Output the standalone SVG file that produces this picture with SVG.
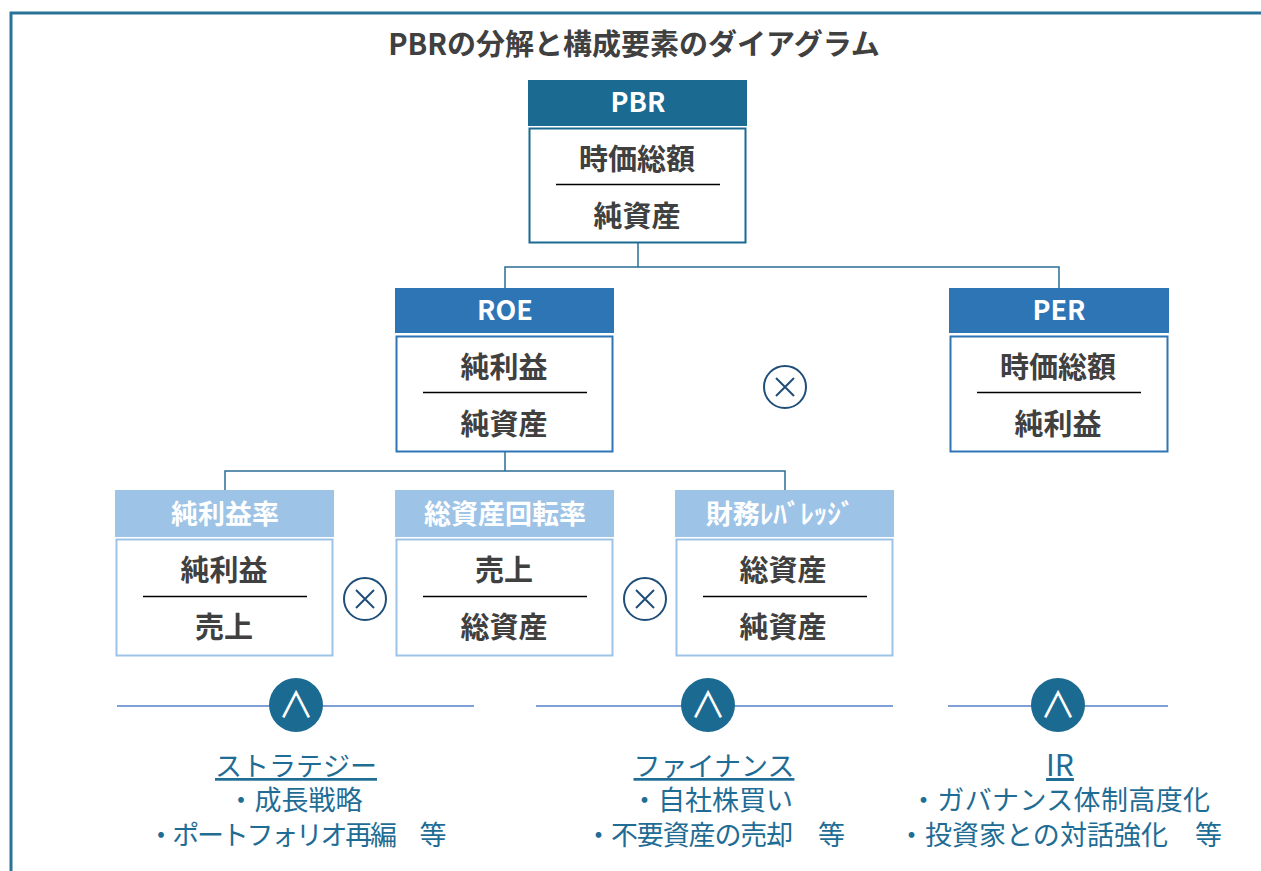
<svg xmlns="http://www.w3.org/2000/svg" width="1261" height="871" viewBox="0 0 1261 871">
<style>
text{font-family:"Noto Sans CJK JP","Noto Sans",sans-serif;text-anchor:middle}
.hd{fill:#fff;font-weight:bold;font-size:27px}
.bd{fill:#404040;font-weight:bold;font-size:29px}
.frac{stroke:#000;stroke-width:1.5}
.conn{fill:none;stroke:#2a6e95;stroke-width:1.5}
.x{fill:#fff;stroke:#1f4e79;stroke-width:2}
.xl{stroke:#1f4e79;stroke-width:2}
.bl{stroke:#7f9fd6;stroke-width:2}
.and{fill:#1a6a92}
.bt{fill:#1f6c94;font-size:27px}
</style>
<rect width="1261" height="871" fill="#fff"/>
<path d="M11,871 V13 H1261" fill="none" stroke="#2a7397" stroke-width="3"/>
<text x="634" y="55" style="fill:#404040;font-size:29px;font-weight:bold">PBRの分解と構成要素のダイアグラム</text>

<g id="connectors">
<path class="conn" d="M638,243 V267 M505,288 V267 H1059 V288"/>
<path class="conn" d="M505,452 V471 M225,490 V471 H785 V490"/>
</g>

<g id="pbr">
<rect x="528" y="80" width="219" height="46" fill="#1a6a92"/>
<rect x="529.5" y="128.5" width="216" height="114" fill="#fff" stroke="#1a6a92" stroke-width="2"/>
<text class="hd" x="638" y="112">PBR</text>
<text class="bd" x="637" y="170">時価総額</text>
<line class="frac" x1="556" y1="184.5" x2="720" y2="184.5"/>
<text class="bd" x="637" y="227">純資産</text>
</g>

<g id="roe">
<rect x="395" y="288" width="219" height="45" fill="#2e75b6"/>
<rect x="396.5" y="336.5" width="216" height="115" fill="#fff" stroke="#2e75b6" stroke-width="2"/>
<text class="hd" x="505" y="320">ROE</text>
<text class="bd" x="504" y="378">純利益</text>
<line class="frac" x1="423" y1="392.5" x2="587" y2="392.5"/>
<text class="bd" x="504" y="435">純資産</text>
</g>

<g id="per">
<rect x="949" y="288" width="220" height="45" fill="#2e75b6"/>
<rect x="950.5" y="336.5" width="217" height="115" fill="#fff" stroke="#2e75b6" stroke-width="2"/>
<text class="hd" x="1059" y="320">PER</text>
<text class="bd" x="1058" y="378">時価総額</text>
<line class="frac" x1="977" y1="392.5" x2="1141" y2="392.5"/>
<text class="bd" x="1058" y="435">純利益</text>
</g>

<g id="mul1">
<circle class="x" cx="785" cy="387" r="21"/>
<path class="xl" d="M776,378 L794,396 M794,378 L776,396"/>
</g>

<g id="npm">
<rect x="115" y="490" width="219" height="47" fill="#9dc3e6"/>
<rect x="116.5" y="539.5" width="216" height="116" fill="#fff" stroke="#9dc3e6" stroke-width="2"/>
<text class="hd" x="225" y="524">純利益率</text>
<text class="bd" x="224" y="581">純利益</text>
<line class="frac" x1="143" y1="596.5" x2="307" y2="596.5"/>
<text class="bd" x="224" y="638">売上</text>
</g>

<g id="mul2">
<circle class="x" cx="365" cy="599" r="21"/>
<path class="xl" d="M356,590 L374,608 M374,590 L356,608"/>
</g>

<g id="tat">
<rect x="395" y="490" width="219" height="47" fill="#9dc3e6"/>
<rect x="396.5" y="539.5" width="216" height="116" fill="#fff" stroke="#9dc3e6" stroke-width="2"/>
<text class="hd" x="505" y="524">総資産回転率</text>
<text class="bd" x="504" y="581">売上</text>
<line class="frac" x1="423" y1="596.5" x2="587" y2="596.5"/>
<text class="bd" x="504" y="638">総資産</text>
</g>

<g id="mul3">
<circle class="x" cx="645" cy="599" r="21"/>
<path class="xl" d="M636,590 L654,608 M654,590 L636,608"/>
</g>

<g id="lev">
<rect x="675" y="490" width="219" height="47" fill="#9dc3e6"/>
<rect x="676.5" y="539.5" width="216" height="116" fill="#fff" stroke="#9dc3e6" stroke-width="2"/>
<text class="hd" x="780" y="524">財務ﾚﾊﾞﾚｯｼﾞ</text>
<text class="bd" x="783" y="581">総資産</text>
<line class="frac" x1="703" y1="596.5" x2="867" y2="596.5"/>
<text class="bd" x="783" y="638">純資産</text>
</g>

<g id="strategy">
<line class="bl" x1="117" y1="706" x2="474" y2="706"/>
<circle class="and" cx="296" cy="705" r="27"/>
<text x="296" y="718" style="fill:#fff;font-size:36px">∧</text>
<text class="bt" x="296" y="776" text-decoration="underline">ストラテジー</text>
<text class="bt" x="295" y="810">・成長戦略</text>
<text class="bt" x="297" y="845" textLength="299" lengthAdjust="spacing">・ポートフォリオ再編　等</text>
</g>

<g id="finance">
<line class="bl" x1="536" y1="706" x2="893" y2="706"/>
<circle class="and" cx="708" cy="705" r="27"/>
<text x="708" y="718" style="fill:#fff;font-size:36px">∧</text>
<text class="bt" x="714" y="776" text-decoration="underline">ファイナンス</text>
<text class="bt" x="712" y="810">・自社株買い</text>
<text class="bt" x="715" y="845" textLength="260" lengthAdjust="spacing">・不要資産の売却　等</text>
</g>

<g id="ir">
<line class="bl" x1="948" y1="706" x2="1168" y2="706"/>
<circle class="and" cx="1058" cy="705" r="27"/>
<text x="1058" y="718" style="fill:#fff;font-size:36px">∧</text>
<text class="bt" x="1060" y="776" text-decoration="underline" style="font-size:30px">IR</text>
<text class="bt" x="1060" y="810" textLength="300" lengthAdjust="spacing">・ガバナンス体制高度化</text>
<text class="bt" x="1060" y="845" textLength="324" lengthAdjust="spacing">・投資家との対話強化　等</text>
</g>
</svg>
